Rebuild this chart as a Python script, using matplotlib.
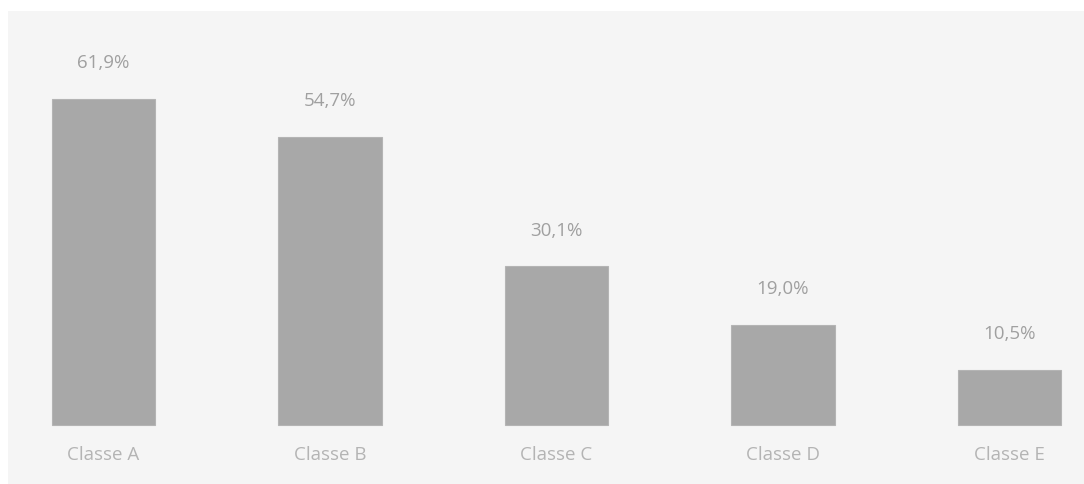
import matplotlib.pyplot as plt

categorias = ["Classe A", "Classe B", "Classe C", "Classe D", "Classe E"]
valores = [61.9, 54.7, 30.1, 19.0, 10.5]
rotulos = ["61,9%", "54,7%", "30,1%", "19,0%", "10,5%"]

plt.rcParams['font.family'] = ['Open Sans', 'DejaVu Sans']

fig = plt.figure(figsize=(10.84, 4.84), dpi=100, facecolor="white")

# o próprio eixo faz o painel cinza claro de fundo
ax = fig.add_axes([8 / 1084, 0, 1 - 8 / 1084, 1 - 11 / 484])
ax.set_facecolor("#f5f5f5")
for s in ax.spines.values():
    s.set_visible(False)
ax.set_xticks([])
ax.set_yticks([])

x = list(range(len(categorias)))
ax.bar(x, valores, width=0.455, color="#a8a8a8", edgecolor="#b4b4b4", linewidth=0.8)

for xi, v, r in zip(x, valores, rotulos):
    ax.text(xi, v + 6.8, r, ha="center", va="center", fontsize=13.5, color="#a0a0a0")

for xi, c in zip(x, categorias):
    ax.text(xi, -5.7, c, ha="center", va="center", fontsize=13.5, color="#b4b4b4")

ax.set_xlim(-0.4216, 4.329)
ax.set_ylim(-11.2, 78.56)

fig.savefig("out.png", dpi=100, facecolor="white")
